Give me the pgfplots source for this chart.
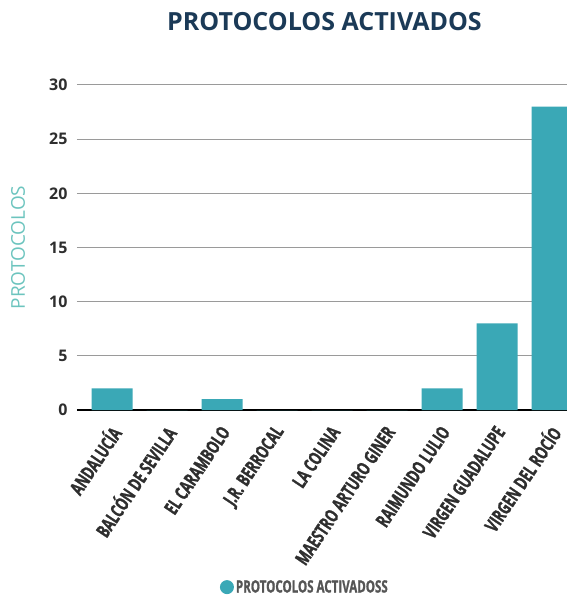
\documentclass[border=0pt]{standalone}
\usepackage{pgfplots}
\pgfplotsset{compat=1.18}
\usepackage{fontspec}
\setmainfont{Open Sans}
\newfontfamily\condfont[FakeStretch=0.68, BoldFeatures={FakeStretch=0.68, FakeBold=1.2}]{Open Sans}
\definecolor{teal1}{HTML}{3AA8B6}
\definecolor{navy}{HTML}{1B3A57}
\definecolor{ylab}{HTML}{6CC4BE}
\definecolor{gridc}{HTML}{9A9A9A}
\definecolor{tickc}{HTML}{2E2E2E}
\definecolor{legc}{HTML}{555555}
\begin{document}
\begin{tikzpicture}[x=1pt,y=1pt]
\path[use as bounding box] (0,0) rectangle (567,600);
\begin{axis}[
  at={(77pt,190pt)}, anchor=south west,
  scale only axis, width=490pt, height=325pt,
  xmin=-0.64, xmax=8.27, ymin=0, ymax=30,
  ytick={0,5,...,30},
  xtick={0,...,8},
  xticklabels={ANDALUCÍA, BALCÓN DE SEVILLA, EL CARAMBOLO, J.R. BERROCAL, LA COLINA, MAESTRO ARTURO GINER, RAIMUNDO LULIO, VIRGEN GUADALUPE, VIRGEN DEL ROCÍO},
  separate axis lines,
  axis x line*=bottom, axis y line*=left,
  x axis line style={black, line width=1.3pt, -},
  y axis line style={draw=none},
  ymajorgrids, grid style={gridc, line width=1pt},
  major tick length=0pt,
  /pgf/number format/assume math mode=true,
  yticklabel style={font=\bfseries\fontsize{16}{16}\selectfont, color=tickc, xshift=-6pt},
  xticklabel style={rotate=56, anchor=east, font=\condfont\bfseries\fontsize{19}{19}\selectfont, color=tickc, yshift=-13pt, xshift=-10pt},
  ylabel={PROTOCOLOS},
  ylabel style={at={(axis description cs:-0.12,0.5)}, anchor=center, font=\fontsize{19}{19}\selectfont, color=ylab},
  title={PROTOCOLOS ACTIVADOS},
  title style={at={(axis description cs:0.505,1.176)}, anchor=center, font=\bfseries\fontsize{25}{25}\selectfont, color=navy},
  legend style={at={(axis description cs:0.465,-0.545)}, anchor=center, draw=none, fill=none, font=\condfont\bfseries\fontsize{17}{17}\selectfont, text=legc},
  ybar, bar width=41pt,
]
\addplot[fill=teal1, draw=none, legend image code/.code={\fill[teal1] (0.2em,0) circle (7pt);}] coordinates {(0,2) (1,0) (2,1) (3,0) (4,0) (5,0) (6,2) (7,8) (8,28)};
\addlegendentry{PROTOCOLOS ACTIVADOSS}
\end{axis}
\end{tikzpicture}
\end{document}
